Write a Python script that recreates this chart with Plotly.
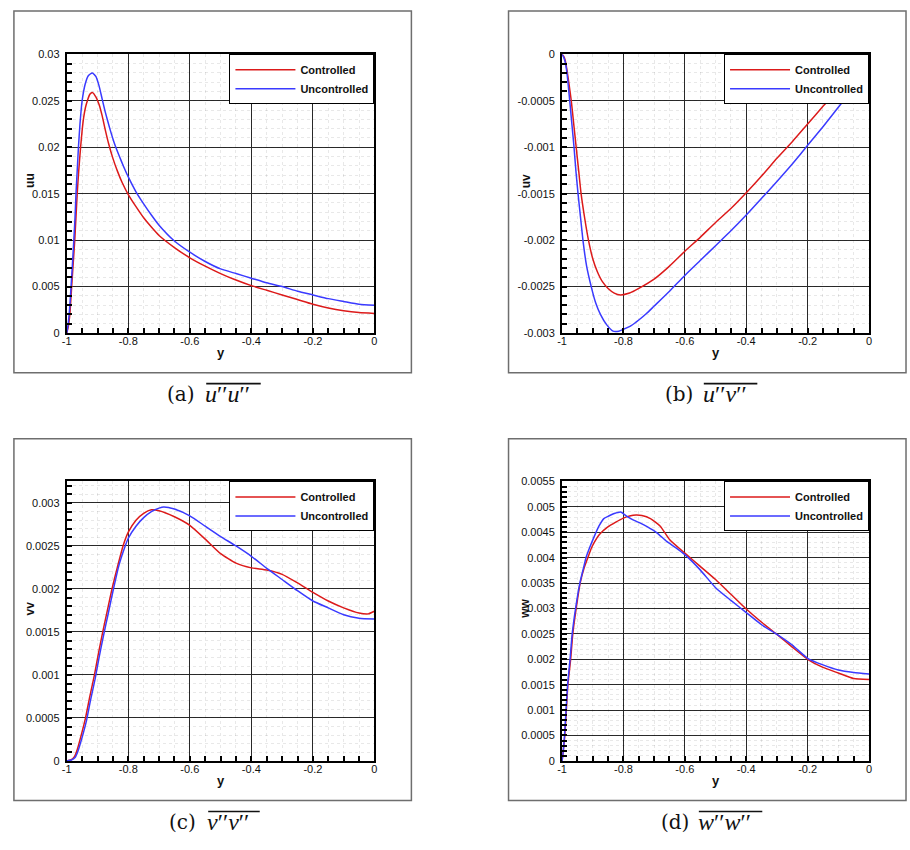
import plotly.graph_objects as go

W, H = 910, 850

# ---------------------------------------------------------------------------
# Reynolds-stress profiles across the half channel (wall at y = -1, centre y = 0)
# ---------------------------------------------------------------------------
series_names = ["Controlled", "Uncontrolled"]
series_colors = ["#dc1a1a", "#3a3aff"]

# u''u''
y_uu_ctrl = [-1, -0.995, -0.99, -0.984, -0.979, -0.974, -0.97, -0.966, -0.961, -0.955,
             -0.95, -0.945, -0.939, -0.933, -0.925, -0.917, -0.905, -0.895, -0.885, -0.875,
             -0.864, -0.85, -0.835, -0.82, -0.8, -0.775, -0.75, -0.725, -0.7, -0.65,
             -0.6, -0.55, -0.5, -0.45, -0.4, -0.35, -0.3, -0.25, -0.2, -0.15,
             -0.1, -0.05, 0]
uu_ctrl = [0, 0.0007, 0.0020, 0.005, 0.0075, 0.010, 0.0125, 0.015, 0.0175, 0.020,
           0.0218, 0.0232, 0.0243, 0.0250, 0.0257, 0.0259, 0.0254, 0.0246, 0.0234, 0.0219,
           0.0204, 0.0188, 0.0174, 0.0162, 0.0149, 0.0136, 0.0124, 0.0114, 0.0105, 0.0092,
           0.0081, 0.0072, 0.0064, 0.0057, 0.0051, 0.0046, 0.0041, 0.0036, 0.0031, 0.0027,
           0.0024, 0.0022, 0.0021]
y_uu_unc = [-1, -0.996, -0.991, -0.986, -0.981, -0.977, -0.973, -0.970, -0.966, -0.962,
            -0.957, -0.95, -0.94, -0.93, -0.917, -0.905, -0.895, -0.885, -0.875, -0.86,
            -0.845, -0.83, -0.815, -0.8, -0.775, -0.75, -0.725, -0.7, -0.65, -0.6,
            -0.55, -0.5, -0.45, -0.4, -0.35, -0.3, -0.25, -0.2, -0.15, -0.1,
            -0.05, 0]
uu_unc = [0, 0.0008, 0.0025, 0.005, 0.0077, 0.010, 0.0125, 0.015, 0.0175, 0.020,
          0.0225, 0.0250, 0.0268, 0.0277, 0.0280, 0.0276, 0.0266, 0.0252, 0.0238, 0.0220,
          0.0204, 0.0191, 0.0179, 0.0168, 0.0152, 0.0139, 0.0127, 0.0116, 0.0099, 0.0087,
          0.0077, 0.0069, 0.0064, 0.0059, 0.0054, 0.0050, 0.0045, 0.0041, 0.0037, 0.0034,
          0.0031, 0.0030]

# u''v''
y_uv_ctrl = [-1, -0.995, -0.99, -0.984, -0.977, -0.97, -0.962, -0.954, -0.946, -0.938,
             -0.926, -0.914, -0.9, -0.885, -0.868, -0.85, -0.83, -0.81, -0.78, -0.75,
             -0.7, -0.65, -0.6, -0.55, -0.5, -0.45, -0.4, -0.35, -0.3, -0.25,
             -0.2, -0.15, -0.1, -0.05, 0]
uv_ctrl = [0, -0.00002, -0.00006, -0.00017, -0.00033, -0.0005, -0.00075, -0.001, -0.00125, -0.0015,
           -0.00177, -0.002, -0.0022, -0.00234, -0.00245, -0.00252, -0.00257, -0.00259, -0.00257, -0.00252,
           -0.00242, -0.00228, -0.00212, -0.00197, -0.00181, -0.00166, -0.00149, -0.00131, -0.00112, -0.00094,
           -0.00075, -0.00056, -0.00038, -0.00019, 0]
y_uv_unc = [-1, -0.995, -0.99, -0.984, -0.975, -0.968, -0.961, -0.955, -0.948, -0.94,
            -0.932, -0.92, -0.905, -0.89, -0.875, -0.855, -0.834, -0.815, -0.8, -0.775,
            -0.75, -0.725, -0.7, -0.65, -0.6, -0.55, -0.5, -0.45, -0.4, -0.35,
            -0.3, -0.25, -0.2, -0.15, -0.1, -0.05, 0]
uv_unc = [0, -0.00003, -0.00008, -0.0002, -0.0005, -0.00075, -0.001, -0.00125, -0.0015, -0.00175,
          -0.002, -0.00228, -0.0025, -0.00268, -0.0028, -0.00291, -0.00298, -0.00298, -0.00296, -0.00292,
          -0.00286, -0.00279, -0.00271, -0.00255, -0.00238, -0.00222, -0.00206, -0.0019, -0.00173, -0.00155,
          -0.00137, -0.00118, -0.00098, -0.00078, -0.00057, -0.00036, -0.000145]

# v''v''
y_vv_ctrl = [-1, -0.987, -0.975, -0.966, -0.95, -0.939, -0.925, -0.91, -0.897, -0.883,
             -0.868, -0.853, -0.835, -0.817, -0.8, -0.775, -0.75, -0.725, -0.7, -0.65,
             -0.6, -0.55, -0.5, -0.45, -0.4, -0.35, -0.3, -0.25, -0.2, -0.15,
             -0.1, -0.05, -0.02, 0]
vv_ctrl = [0, 0.00001, 0.00005, 0.00013, 0.00034, 0.0005, 0.00075, 0.001, 0.00125, 0.0015,
           0.00175, 0.002, 0.00226, 0.0025, 0.00266, 0.0028, 0.00288, 0.00292, 0.00291, 0.00284,
           0.00274, 0.00258, 0.00241, 0.0023, 0.002245, 0.00222, 0.00217, 0.00207, 0.00196, 0.00186,
           0.00178, 0.00172, 0.00171, 0.00174]
y_vv_unc = [-1, -0.985, -0.973, -0.964, -0.948, -0.937, -0.923, -0.908, -0.895, -0.881,
            -0.866, -0.85, -0.83, -0.81, -0.8, -0.775, -0.75, -0.725, -0.7, -0.685,
            -0.65, -0.6, -0.55, -0.5, -0.45, -0.4, -0.35, -0.3, -0.25, -0.2,
            -0.15, -0.1, -0.05, 0]
vv_unc = [0, 0.00001, 0.00004, 0.00011, 0.0003, 0.00045, 0.0007, 0.00095, 0.0012, 0.00145,
          0.0017, 0.00197, 0.00228, 0.0025, 0.00259, 0.00273, 0.00283, 0.0029, 0.00294, 0.002954,
          0.00293, 0.00285, 0.00273, 0.00261, 0.0025, 0.00238, 0.00224, 0.00211, 0.00198, 0.00186,
          0.00178, 0.0017, 0.00166, 0.00165]

# w''w''
y_ww_ctrl = [-1, -0.996, -0.991, -0.986, -0.981, -0.972, -0.965, -0.954, -0.941, -0.928,
             -0.916, -0.905, -0.895, -0.879, -0.852, -0.825, -0.8, -0.78, -0.759, -0.74,
             -0.712, -0.68, -0.65, -0.6, -0.55, -0.5, -0.45, -0.4, -0.35, -0.3,
             -0.25, -0.2, -0.15, -0.1, -0.05, 0]
ww_ctrl = [0, 0.0002, 0.0005, 0.001, 0.0015, 0.002, 0.0025, 0.003, 0.0035, 0.0038,
           0.004, 0.00418, 0.0043, 0.00445, 0.0046, 0.0047, 0.00478, 0.00482, 0.00484, 0.00483,
           0.00477, 0.00462, 0.00436, 0.00409, 0.00383, 0.00357, 0.00328, 0.00299, 0.00273, 0.00249,
           0.00224, 0.002, 0.00184, 0.00173, 0.00162, 0.0016]
y_ww_unc = [-1, -0.996, -0.992, -0.987, -0.982, -0.974, -0.967, -0.956, -0.942, -0.93,
            -0.922, -0.91, -0.895, -0.88, -0.864, -0.848, -0.83, -0.809, -0.79, -0.767,
            -0.745, -0.723, -0.691, -0.659, -0.63, -0.6, -0.55, -0.5, -0.45, -0.4,
            -0.35, -0.3, -0.25, -0.2, -0.15, -0.1, -0.05, 0]
ww_unc = [0, 0.0002, 0.0005, 0.001, 0.0015, 0.002, 0.0025, 0.003, 0.0035, 0.0038,
          0.004, 0.0042, 0.00442, 0.00462, 0.00477, 0.00482, 0.00487, 0.0049, 0.00482, 0.00474,
          0.00468, 0.00461, 0.00449, 0.00432, 0.0042, 0.00406, 0.00376, 0.00341, 0.00316, 0.00292,
          0.00268, 0.00249, 0.00228, 0.00202, 0.00189, 0.00179, 0.00174, 0.00171]

# tick values / labels (labelled major ticks)
x_ticks = [-1, -0.8, -0.6, -0.4, -0.2, 0]
x_tick_labels = ["-1", "-0.8", "-0.6", "-0.4", "-0.2", "0"]
uu_ticks = [0, 0.005, 0.01, 0.015, 0.02, 0.025, 0.03]
uu_tick_labels = ["0", "0.005", "0.01", "0.015", "0.02", "0.025", "0.03"]
uv_ticks = [0, -0.0005, -0.001, -0.0015, -0.002, -0.0025, -0.003]
uv_tick_labels = ["0", "-0.0005", "-0.001", "-0.0015", "-0.002", "-0.0025", "-0.003"]
vv_ticks = [0, 0.0005, 0.001, 0.0015, 0.002, 0.0025, 0.003]
vv_tick_labels = ["0", "0.0005", "0.001", "0.0015", "0.002", "0.0025", "0.003"]
ww_ticks = [0, 0.0005, 0.001, 0.0015, 0.002, 0.0025, 0.003, 0.0035, 0.004, 0.0045, 0.005, 0.0055]
ww_tick_labels = ["0", "0.0005", "0.001", "0.0015", "0.002", "0.0025", "0.003", "0.0035",
                  "0.004", "0.0045", "0.005", "0.0055"]


def fx(px):
    return px / W


def fy(py):
    return 1 - py / H


def tick_arrays(lo, hi, step, majors, labels):
    """Every small tick from lo to hi; only the major ones carry a label."""
    n = int(round((hi - lo) / step))
    vals = [round(lo + k * step, 7) for k in range(n + 1)]
    named = {round(v, 7): t for v, t in zip(majors, labels)}
    return vals, [named.get(v, "") for v in vals]


LEFT_COL = (62.3, 372.7)
RIGHT_COL = (562.0, 871.7)
TOP_ROW = (49.0, 331.7)
BOTTOM_ROW = (482.3, 765.7)

panels = [
    dict(data=[(y_uu_ctrl, uu_ctrl), (y_uu_unc, uu_unc)], yrange=[0, 0.03],
         ticks=(uu_ticks, uu_tick_labels), small=(0, 0.03, 0.001), major=0.005,
         col=LEFT_COL, row=TOP_ROW,
         ytitle="uu", frame=(9, 5, 410, 372), label="(a)", cap=(194, 203, 258)),
    dict(data=[(y_uv_ctrl, uv_ctrl), (y_uv_unc, uv_unc)], yrange=[-0.003, 0],
         ticks=(uv_ticks, uv_tick_labels), small=(-0.003, 0, 0.0001), major=0.0005,
         col=RIGHT_COL, row=TOP_ROW,
         ytitle="uv", frame=(508, 5, 909, 372), label="(b)", cap=(696, 705, 759)),
    dict(data=[(y_vv_ctrl, vv_ctrl), (y_vv_unc, vv_unc)], yrange=[0, 0.00325],
         ticks=(vv_ticks, vv_tick_labels), small=(0, 0.0032, 0.0001), major=0.0005,
         col=LEFT_COL, row=BOTTOM_ROW,
         ytitle="vv", frame=(9, 439, 410, 806), label="(c)", cap=(195, 205, 257)),
    dict(data=[(y_ww_ctrl, ww_ctrl), (y_ww_unc, ww_unc)], yrange=[0, 0.0055],
         ticks=(ww_ticks, ww_tick_labels), small=(0, 0.0055, 0.0001), major=0.0005,
         col=RIGHT_COL, row=BOTTOM_ROW,
         ytitle="ww", frame=(508, 439, 909, 806), label="(d)", cap=(692, 700, 764)),
]

captions = {
    "(a)": "<i>u</i>′′<i>u</i>′′",
    "(b)": "<i>u</i>′′<i>v</i>′′",
    "(c)": "<i>v</i>′′<i>v</i>′′",
    "(d)": "<i>w</i>′′<i>w</i>′′",
}

SANS = "Liberation Sans, Arial, sans-serif"
SERIF = "DejaVu Serif, Liberation Serif, serif"
SERIF_SYM = "Liberation Serif, DejaVu Serif, serif"

fig = go.Figure()
layout = dict(
    width=W, height=H, margin=dict(l=0, r=0, t=0, b=0),
    paper_bgcolor="white", plot_bgcolor="rgba(0,0,0,0)",
    font=dict(family=SANS, size=11, color="#111"),
    shapes=[], annotations=[],
)

# the tick array carries every small tick (and the faint dotted grid);
# the dark grid at the labelled values comes from the "minor" layer
axis_common = dict(
    showline=True, linecolor="black", linewidth=2, mirror=True,
    showgrid=True, gridcolor="rgba(0,0,0,0.09)", griddash="dot", gridwidth=1,
    ticks="inside", ticklen=5, tickwidth=1.6, tickcolor="black",
    tickfont=dict(family=SANS, size=11, color="#111"),
    zeroline=False, fixedrange=True, layer="above traces",
)


def major_grid(tick0, step):
    return dict(tickmode="linear", tick0=tick0, dtick=step, ticks="",
                showgrid=True, gridcolor="#2b2b2b", gridwidth=1, griddash="solid")


for i, p in enumerate(panels, start=1):
    sfx = "" if i == 1 else str(i)
    xa, ya = "x" + sfx, "y" + sfx
    leg = "legend" + sfx

    for (xs, ys), name, color in zip(p["data"], series_names, series_colors):
        fig.add_trace(go.Scatter(
            x=xs, y=ys, name=name, mode="lines",
            line=dict(color=color, width=1.5, shape="spline", smoothing=0.5),
            xaxis=xa, yaxis=ya, legend=leg, hoverinfo="skip",
        ))

    c0, c1 = p["col"]
    r0, r1 = p["row"]
    xv, xt = tick_arrays(-1, 0, 0.05, x_ticks, x_tick_labels)
    layout["xaxis" + sfx] = dict(
        axis_common, domain=[fx(c0), fx(c1)], anchor=ya, range=[-1, 0],
        tickmode="array", tickvals=xv, ticktext=xt, ticklabelstandoff=-3,
        minor=major_grid(-1, 0.2),
    )
    lo, hi, step = p["small"]
    yv, yt = tick_arrays(lo, hi, step, *p["ticks"])
    layout["yaxis" + sfx] = dict(
        axis_common, domain=[fy(r1), fy(r0)], anchor=xa, range=p["yrange"],
        tickmode="array", tickvals=yv, ticktext=yt, ticklabelstandoff=3,
        minor=major_grid(0, p["major"]),
    )

    layout[leg] = dict(
        x=fx(c1), y=fy(r0), xref="paper", yref="paper", xanchor="right", yanchor="top",
        bgcolor="white", bordercolor="black", borderwidth=1,
        font=dict(family=SANS, size=11, color="#111", weight="bold"),
        itemwidth=60, tracegroupgap=0, itemclick=False, itemdoubleclick=False,
    )

    # outer frame around the panel
    fl, ft, fr, fb = p["frame"]
    layout["shapes"].append(dict(
        type="rect", xref="paper", yref="paper", x0=fx(fl), x1=fx(fr), y0=fy(fb), y1=fy(ft),
        line=dict(color="#6e6e6e", width=1.5), layer="below",
    ))

    # axis titles
    layout["annotations"].append(dict(
        text="<b>y</b>", xref="paper", yref="paper", x=fx((c0 + c1) / 2), y=fy(r1 + 20),
        showarrow=False, font=dict(family=SANS, size=13, color="#111"),
        xanchor="center", yanchor="middle",
    ))
    layout["annotations"].append(dict(
        text="<b>" + p["ytitle"] + "</b>", xref="paper", yref="paper",
        x=fx(c0 - 37), y=fy((r0 + r1) / 2 - 13), textangle=-90, showarrow=False,
        font=dict(family=SANS, size=12, color="#111"),
        xanchor="center", yanchor="middle",
    ))

    # sub-figure caption with an overbar on the stress symbol
    lab_right, sym_left, bar_right = p["cap"]
    cap_y = fb + 22
    layout["annotations"].append(dict(
        text=p["label"], xref="paper", yref="paper", x=fx(lab_right), y=fy(cap_y),
        showarrow=False, xanchor="right", yanchor="middle",
        font=dict(family=SERIF, size=20, color="#111"),
    ))
    layout["annotations"].append(dict(
        text=captions[p["label"]], xref="paper", yref="paper", x=fx(sym_left - 3),
        y=fy(cap_y), showarrow=False, xanchor="left", yanchor="middle",
        font=dict(family=SERIF_SYM, size=24, color="#111"),
    ))
    layout["shapes"].append(dict(
        type="line", xref="paper", yref="paper",
        x0=fx(sym_left), x1=fx(bar_right), y0=fy(fb + 11), y1=fy(fb + 11),
        line=dict(color="#111", width=1.6),
    ))

fig.update_layout(**layout)
fig.write_html("out.html")
